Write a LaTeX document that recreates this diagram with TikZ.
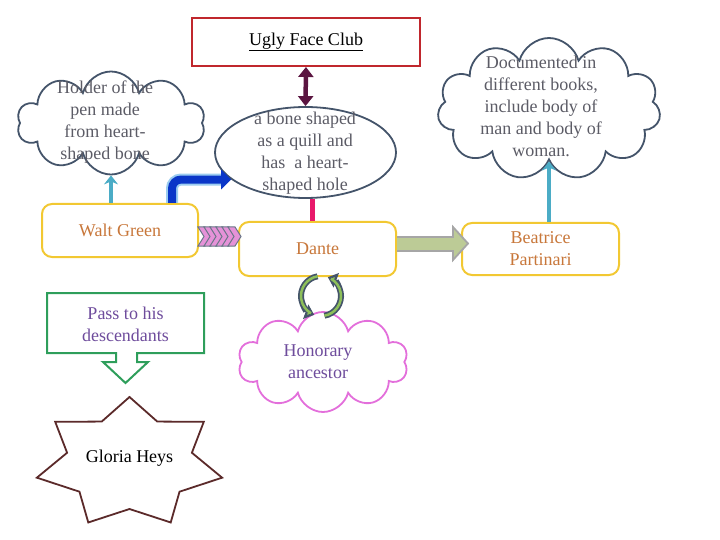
\documentclass[tikz,border=0pt]{standalone}
\usepackage{fontspec}
\setmainfont{Liberation Serif}
\usetikzlibrary{arrows.meta, positioning, calc, shapes.geometric, shapes.symbols}
\definecolor{slate}{HTML}{44546A}
\definecolor{ash}{HTML}{5C5C66}
\definecolor{gold}{HTML}{F2C832}
\definecolor{rust}{HTML}{C8773A}
\definecolor{clubred}{HTML}{C0272D}
\definecolor{plum}{HTML}{5B1541}
\definecolor{rose}{HTML}{E8196B}
\definecolor{tealc}{HTML}{4BACC6}
\definecolor{royal}{HTML}{0A36C8}
\definecolor{sky}{HTML}{9CCDF0}
\definecolor{orchid}{HTML}{E36FDB}
\definecolor{violet}{HTML}{6E4C9C}
\definecolor{leaf}{HTML}{2E9E5B}
\definecolor{sage}{HTML}{BCCB96}
\definecolor{pinkchev}{HTML}{E592D8}
\definecolor{moss}{HTML}{8DBF5A}
\definecolor{maroon}{HTML}{5B2A2A}

\begin{document}
\begin{tikzpicture}[x=1pt, y=-1pt,
      every node/.style={font=\fontsize{18}{22}\selectfont, align=center},
      box/.style={draw=gold, line width=2pt, rounded corners=10pt, fill=white,
                  minimum width=156, minimum height=53, text=rust},
      puff/.style={cloud, cloud puffs=11, cloud ignores aspect, draw=slate,
                   line width=1.8pt, fill=white},
      puffs/.style={text=ash},
      tealarr/.style={-{Stealth[length=9pt, width=14pt]}, tealc, line width=3.5pt},
      chev/.style={fill=pinkchev, draw=slate!80, line width=1pt, line join=miter}]
    \useasboundingbox (0,0) rectangle (720,540);

    % top
    \node[draw=clubred, line width=2pt, minimum width=228, minimum height=48]
         (club) at (306,42) {\underline{Ugly Face Club}};
    \node[ellipse, draw=slate, line width=1.8pt, fill=white,
          minimum width=181, minimum height=91] (bone) at (305.5,152.5) {};
    \node[puffs] (bonetxt) at (305,153) {a bone shaped\\as a quill and\\has\ \ a heart-\\shaped hole};

    % clouds
    \node[puff, cloud puffs=10, minimum width=188, minimum height=103] (holder) at (111,123) {};
    \node[puffs] (holdertxt) at (105,122) {Holder of the\\pen made\\from heart-\\shaped bone};
    \node[puff, minimum width=223, minimum height=142] (docs) at (549,109) {};
    \node[puffs] (docstxt) at (541,106) {Documented in\\different books,\\include body of\\man and body of\\woman.};
    \node[puff, cloud puffs=10, draw=orchid, minimum width=170, minimum height=100] (hon) at (323,362) {};
    \node[text=violet] (hontxt) at (318,362) {Honorary\\ancestor};

    % boxes
    \node[box] (walt) at (120,230.5) {Walt Green};
    \node[box, minimum width=157, minimum height=54] (dante) at (317.5,249) {Dante};
    \node[box, minimum width=157, minimum height=52] (bea) at (540.5,249) {Beatrice\\Partinari};

    % connectors
    \draw[{Triangle[length=10pt, width=15pt]}-{Triangle[length=10pt, width=15pt]}, plum, line width=4.5pt]
         (club.south) -- (bone.north);
    \draw[rose, line width=5pt] ([xshift=-5]dante.north) -- ([xshift=-5]dante.north |- bone.south);
    \draw[tealarr] (holder.south |- walt.north) -- (holder.south);
    \draw[tealarr] (docs.south |- bea.north) -- (docs.south);
    \draw[sky, line width=12pt, rounded corners=9pt] ([xshift=52]walt.north) |- ([xshift=-10]bone.200);
    \draw[royal, line width=8pt, rounded corners=9pt, -{Triangle[length=10pt, width=19pt]}]
         ([xshift=52]walt.north) |- (bone.200);
    \foreach \k in {0,...,5}
      \draw[chev] (198+6*\k,227) -- ++(7,0) -- ++(6,9.5) -- ++(-6,9.5) -- ++(-7,0) -- ++(6,-9.5) -- cycle;
    \draw[fill=sage, draw=gray!70, line width=1.8pt]
         (dante.east |- 0,237) -- (453,237) -- (453,227) -- (468,243.5) -- (453,260) -- (453,251)
         -- (dante.east |- 0,251);

    % cycle arrows
    \coordinate (cyc) at (321,296);
    \draw[slate, line width=6pt, -{Triangle[length=9pt, width=15pt, fill=moss]}]
         ($(cyc)+(-100:20)$) arc[start angle=-100, end angle=-250, radius=20];
    \draw[moss, line width=2.5pt] ($(cyc)+(-100:20)$) arc[start angle=-100, end angle=-240, radius=20];
    \draw[slate, line width=6pt, -{Triangle[length=9pt, width=15pt, fill=moss]}]
         ($(cyc)+(80:20)$) arc[start angle=80, end angle=-70, radius=20];
    \draw[moss, line width=2.5pt] ($(cyc)+(80:20)$) arc[start angle=80, end angle=-60, radius=20];

    % descendants
    \draw[leaf, line width=2pt, line join=miter] (47,293) -- (204,293) -- (204,353) -- (137,353) -- (137,362)
         -- (148,362) -- (125.5,383) -- (103,362) -- (116,362) -- (116,353) -- (47,353) -- cycle;
    \node[text=violet] (pass) at (125.5,324) {Pass to his\\descendants};
    \draw[maroon, line width=1.8pt, line join=miter]
         plot[samples at={0,...,13}, variable=\k]
         ({129.5+ifthenelse(mod(\k,2)==0,95,64)*cos(90+\k*180/7)},
          {463-ifthenelse(mod(\k,2)==0,66,46)*sin(90+\k*180/7)}) -- cycle;
    \node (gloria) at (129.5,458) {Gloria Heys};
  \end{tikzpicture}
\end{document}
